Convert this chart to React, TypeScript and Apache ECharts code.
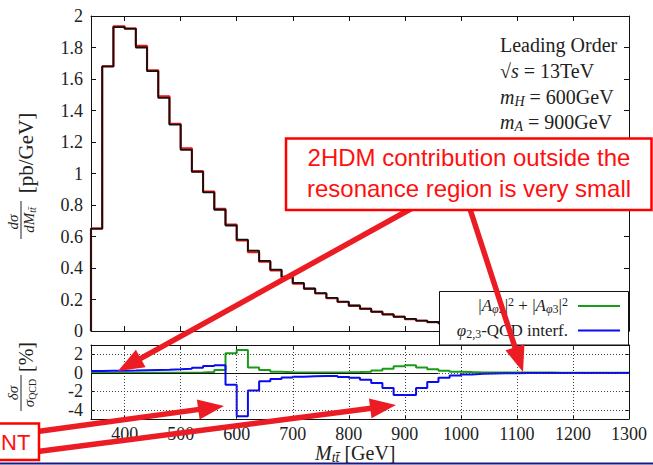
import React, { useEffect, useRef } from "react";
import * as echarts from "echarts";

// ---------- data ----------
const binEdges = [340, 360, 380, 400, 420, 440, 460, 480, 500, 520, 540, 560, 580, 600, 620, 640, 660, 680, 700, 720, 740, 760, 780, 800, 820, 840, 860, 880, 900, 920, 940, 960, 980, 1000, 1020, 1040, 1060, 1080, 1100, 1120, 1140, 1160, 1180, 1200, 1220, 1240, 1260, 1280, 1300];

// dσ/dM (pb/GeV), total (black)
const sigmaTotal = [0.65, 1.68, 1.93, 1.92, 1.80, 1.65, 1.48, 1.31, 1.15, 1.01, 0.88, 0.77, 0.67, 0.58, 0.51, 0.445, 0.39, 0.345, 0.305, 0.27, 0.24, 0.21, 0.186, 0.162, 0.142, 0.123, 0.106, 0.091, 0.077, 0.066, 0.057, 0.050, 0.044, 0.039, 0.034, 0.030, 0.027, 0.024, 0.021, 0.019, 0.017, 0.015, 0.013, 0.012, 0.011, 0.010, 0.009, 0.008];
// QCD only (red)
const sigmaQCD = [0.65, 1.68, 1.935, 1.92, 1.81, 1.655, 1.49, 1.315, 1.16, 1.015, 0.885, 0.775, 0.675, 0.575, 0.50, 0.44, 0.385, 0.34, 0.30, 0.268, 0.238, 0.208, 0.184, 0.16, 0.14, 0.122, 0.105, 0.09, 0.076, 0.065, 0.056, 0.049, 0.043, 0.038, 0.033, 0.030, 0.027, 0.024, 0.021, 0.019, 0.017, 0.015, 0.013, 0.012, 0.011, 0.010, 0.009, 0.008];
// δσ/σQCD [%] : |A_phi2|^2 + |A_phi3|^2 (green)
const ratioSquared = [0.01, 0.01, 0.01, 0.01, 0.01, 0.01, 0.01, 0.01, 0.01, 0.02, 0.08, 0.29, 2.1, 2.45, 0.57, 0.29, 0.1, 0.05, 0.03, 0.03, 0.03, 0.04, 0.05, 0.07, 0.12, 0.25, 0.43, 0.7, 0.8, 0.56, 0.38, 0.22, 0.12, 0.07, 0.04, 0.03, 0.03, 0.02, 0.02, 0.02, 0.02, 0.01, 0.01, 0.01, 0.01, 0.01, 0.01, 0.01];
// phi_{2,3}-QCD interference (blue)
const ratioInterf = [0.2, 0.21, 0.22, 0.23, 0.26, 0.29, 0.32, 0.37, 0.43, 0.55, 0.72, 0.82, -1.29, -4.7, -1.93, -0.93, -0.68, -0.5, -0.42, -0.37, -0.35, -0.36, -0.45, -0.55, -0.75, -1.1, -1.65, -2.4, -2.4, -1.65, -1.0, -0.55, -0.3, -0.18, -0.12, -0.08, -0.06, -0.05, -0.04, -0.04, -0.03, -0.03, -0.03, -0.02, -0.02, -0.02, -0.02, -0.02];

const xTicks = [400, 500, 600, 700, 800, 900, 1000, 1100, 1200, 1300];
const xGrid = [400, 500, 600, 700, 800, 900, 1000, 1100, 1200];
const lowerYTicks = [-4, -2, 0, 2];

// ---------- styling ----------
const SERIF = "'Liberation Serif', 'Times New Roman', serif";
const SANS = "'Liberation Sans', Arial, sans-serif";
const TXT = "#222";
const ARROW = "#ec1c24";

const steps = (vals: number[], fromZero = false) => {
  const pts: number[][] = [];
  if (fromZero) pts.push([binEdges[0], 0]);
  vals.forEach((v, i) => pts.push([binEdges[i], v]));
  pts.push([binEdges[vals.length], vals[vals.length - 1]]);
  return pts;
};

const rich = (size: number) => {
  const s = Math.round(size * 0.68);
  const off = Math.round(size * 0.42);
  return {
    it: { fontFamily: SERIF, fontSize: size, fontStyle: "italic", fill: TXT, color: TXT },
    rm: { fontFamily: SERIF, fontSize: size, fill: TXT, color: TXT },
    sub: { fontFamily: SERIF, fontSize: s, fontStyle: "italic", fill: TXT, color: TXT, padding: [off, 0, 0, 0] },
    subr: { fontFamily: SERIF, fontSize: s, fill: TXT, color: TXT, padding: [off, 0, 0, 0] },
    sup: { fontFamily: SERIF, fontSize: s, fill: TXT, color: TXT, padding: [0, 0, off, 0] },
  };
};

const txt = (x: number, y: number, text: string, size: number, align = "left", extra: any = {}, z = 100) => ({
  type: "text",
  x,
  y,
  z,
  style: {
    text,
    fill: TXT,
    fontFamily: SERIF,
    fontSize: size,
    textAlign: align,
    align,
    textVerticalAlign: "middle",
    verticalAlign: "middle",
    rich: rich(size),
    ...extra,
  },
});

const arrow = (x1: number, y1: number, x2: number, y2: number) => {
  const dx = x2 - x1;
  const dy = y2 - y1;
  const L = Math.hypot(dx, dy);
  const ux = dx / L;
  const uy = dy / L;
  const hl = 26;
  const hw = 10;
  const bx = x2 - ux * hl;
  const by = y2 - uy * hl;
  const px = -uy;
  const py = ux;
  return [
    { type: "line", z: 200, shape: { x1, y1, x2: bx + ux * 3, y2: by + uy * 3 }, style: { stroke: ARROW, lineWidth: 5.5 } },
    {
      type: "polygon",
      z: 200,
      shape: { points: [[x2, y2], [bx + px * hw, by + py * hw], [bx - px * hw, by - py * hw]] },
      style: { fill: ARROW },
    },
  ];
};

const tickStyle = { color: "#111" };

const axisBase = (gridIndex: number, extra: any = {}) => ({
  type: "value",
  gridIndex,
  axisLine: { show: true, onZero: false, lineStyle: { color: "#111", width: 1 } },
  axisTick: { show: true, inside: true, length: 5, lineStyle: tickStyle },
  axisLabel: { show: false },
  splitLine: { show: false },
  ...extra,
});

export default function App() {
  const ref = useRef<HTMLDivElement>(null);
  useEffect(() => {
    if (!ref.current) return;
    const chart = echarts.init(ref.current, undefined, { renderer: "svg" });

    const labelStyle = { show: true, color: TXT, fontFamily: SERIF, fontSize: 18 };
    const xTick = (len: number) => ({ show: true, inside: true, length: len, customValues: xTicks, lineStyle: tickStyle });
    const yTickLower = { show: true, inside: true, length: 4, customValues: lowerYTicks, lineStyle: tickStyle };

    const option: any = {
      animation: false,
      textStyle: { fontFamily: SERIF },
      grid: [
        { left: 91, top: 16, width: 538, height: 315 },
        { left: 91, top: 345, width: 538, height: 74 },
      ],
      xAxis: [
        axisBase(0, { min: 340, max: 1300, position: "bottom", axisTick: xTick(5) }),
        axisBase(0, { min: 340, max: 1300, position: "top", axisTick: xTick(5) }),
        axisBase(1, {
          min: 340,
          max: 1300,
          position: "bottom",
          axisTick: xTick(4),
          axisLabel: { ...labelStyle, margin: 6, customValues: xTicks, formatter: (v: number) => String(v) },
        }),
        axisBase(1, { min: 340, max: 1300, position: "top", axisTick: xTick(4) }),
      ],
      yAxis: [
        axisBase(0, {
          min: 0,
          max: 2,
          interval: 0.2,
          position: "left",
          axisLabel: { ...labelStyle, margin: 8, formatter: (v: number) => String(Math.round(v * 10) / 10) },
        }),
        axisBase(0, { min: 0, max: 2, interval: 0.2, position: "right" }),
        axisBase(1, {
          min: -5,
          max: 3,
          position: "left",
          axisTick: yTickLower,
          axisLabel: { ...labelStyle, margin: 8, customValues: lowerYTicks, formatter: (v: number) => String(v) },
        }),
        axisBase(1, { min: -5, max: 3, position: "right", axisTick: yTickLower }),
      ],
      series: [
        {
          type: "line",
          xAxisIndex: 2,
          yAxisIndex: 2,
          data: [[340, 0]],
          symbol: "none",
          silent: true,
          lineStyle: { opacity: 0 },
          z: 1,
          markLine: {
            silent: true,
            symbol: ["none", "none"],
            label: { show: false },
            lineStyle: { type: [1, 2], color: "#444", width: 1 },
            data: [
              ...xGrid.map((v) => ({ xAxis: v })),
              ...lowerYTicks.map((v) => ({ yAxis: v })),
              [
                { coord: [340, 0], lineStyle: { type: "solid", color: "#111", width: 1 } },
                { coord: [960, 0] },
              ],
            ],
          },
        },
        {
          name: "QCD",
          type: "line",
          xAxisIndex: 0,
          yAxisIndex: 0,
          step: "end",
          symbol: "none",
          data: steps(sigmaQCD, true),
          lineStyle: { color: "#ee1111", width: 2.2 },
          z: 2,
        },
        {
          name: "total",
          type: "line",
          xAxisIndex: 0,
          yAxisIndex: 0,
          step: "end",
          symbol: "none",
          data: steps(sigmaTotal, true),
          lineStyle: { color: "#111", width: 1.8 },
          z: 3,
        },
        {
          name: "squared",
          type: "line",
          xAxisIndex: 2,
          yAxisIndex: 2,
          step: "end",
          symbol: "none",
          data: steps(ratioSquared),
          lineStyle: { color: "#1a9c1a", width: 2 },
          z: 3,
        },
        {
          name: "interf",
          type: "line",
          xAxisIndex: 2,
          yAxisIndex: 2,
          step: "end",
          symbol: "none",
          data: steps(ratioInterf),
          lineStyle: { color: "#0a0af5", width: 2 },
          z: 4,
        },
      ],
      graphic: {
        elements: [
          // physics annotation
          txt(500, 45, "Leading Order", 20),
          txt(500, 71, "√{it|s} = 13TeV", 20),
          txt(500, 97, "{it|m}{sub|H} = 600GeV", 20),
          txt(500, 122, "{it|m}{sub|A} = 900GeV", 20),
          // legend box
          {
            type: "rect",
            z: 100,
            shape: { x: 439.5, y: 291.5, width: 189, height: 53.5 },
            style: { fill: "#fff", stroke: "#111", lineWidth: 1 },
          },
          txt(568, 305, "|{it|A}{sub|φ}{subr|2}|{sup|2} + |{it|A}{sub|φ}{subr|3}|{sup|2}", 17, "right", {}, 101),
          txt(568, 330, "{it|φ}{subr|2,3}-QCD interf.", 17, "right", {}, 101),
          { type: "line", z: 101, shape: { x1: 578, y1: 306, x2: 620, y2: 306 }, style: { stroke: "#1a9c1a", lineWidth: 2 } },
          { type: "line", z: 101, shape: { x1: 578, y1: 330.5, x2: 620, y2: 330.5 }, style: { stroke: "#0a0af5", lineWidth: 2 } },
          // y-axis titles
          {
            type: "group",
            x: 21,
            y: 220,
            rotation: Math.PI / 2,
            z: 100,
            children: [
              txt(-2, -8, "{it|dσ}", 15, "center"),
              { type: "line", shape: { x1: -19, y1: 0, x2: 19, y2: 0 }, style: { stroke: TXT, lineWidth: 1 } },
              txt(0, 8, "{it|dM}{sub|tt̄}", 15, "center"),
              txt(67, 5, "[pb/GeV]", 21, "center"),
            ],
          },
          {
            type: "group",
            x: 21,
            y: 393,
            rotation: Math.PI / 2,
            z: 100,
            children: [
              txt(0, -8, "{it|δσ}", 15, "center"),
              { type: "line", shape: { x1: -18, y1: 0, x2: 18, y2: 0 }, style: { stroke: TXT, lineWidth: 1 } },
              txt(0, 8, "{it|σ}{subr|QCD}", 15, "center"),
              txt(36, 5, "[%]", 20, "center"),
            ],
          },
          // x-axis title
          txt(315, 453, "{it|M}{sub|tt̄} [GeV]", 20, "left"),
          // arrows
          ...arrow(416, 206, 118, 371),
          ...arrow(469, 206, 523, 372),
          ...arrow(34, 432, 224, 406),
          ...arrow(34, 452, 396, 405),
          // red annotation box
          {
            type: "rect",
            z: 300,
            shape: { x: 286, y: 138.5, width: 365.5, height: 71.5 },
            style: { fill: "#fff", stroke: "#ff0000", lineWidth: 2.5 },
          },
          txt(469, 157, "2HDM contribution outside the", 24, "center", { fontFamily: SANS, fill: "#ff1010", rich: {} }, 301),
          txt(469, 188.5, "resonance region is very small", 24, "center", { fontFamily: SANS, fill: "#ff1010", rich: {} }, 301),
          // "NT" box at the left edge
          {
            type: "rect",
            z: 300,
            shape: { x: -5, y: 423.5, width: 44, height: 36.5 },
            style: { fill: "#fff", stroke: "#ff0000", lineWidth: 2.5 },
          },
          txt(1, 442, "NT", 22, "left", { fontFamily: SANS, fill: "#ff1010", rich: {} }, 301),
          // slide footer line
          {
            type: "rect",
            z: 400,
            shape: { x: 0, y: 462.5, width: 653, height: 2 },
            style: { fill: "#1a1a7e" },
          },
        ],
      },
    };

    chart.setOption(option);
    return () => chart.dispose();
  }, []);

  return <div ref={ref} style={{ position: "fixed", left: 0, top: 0, width: 653, height: 465, background: "#fff" }} />;
}
